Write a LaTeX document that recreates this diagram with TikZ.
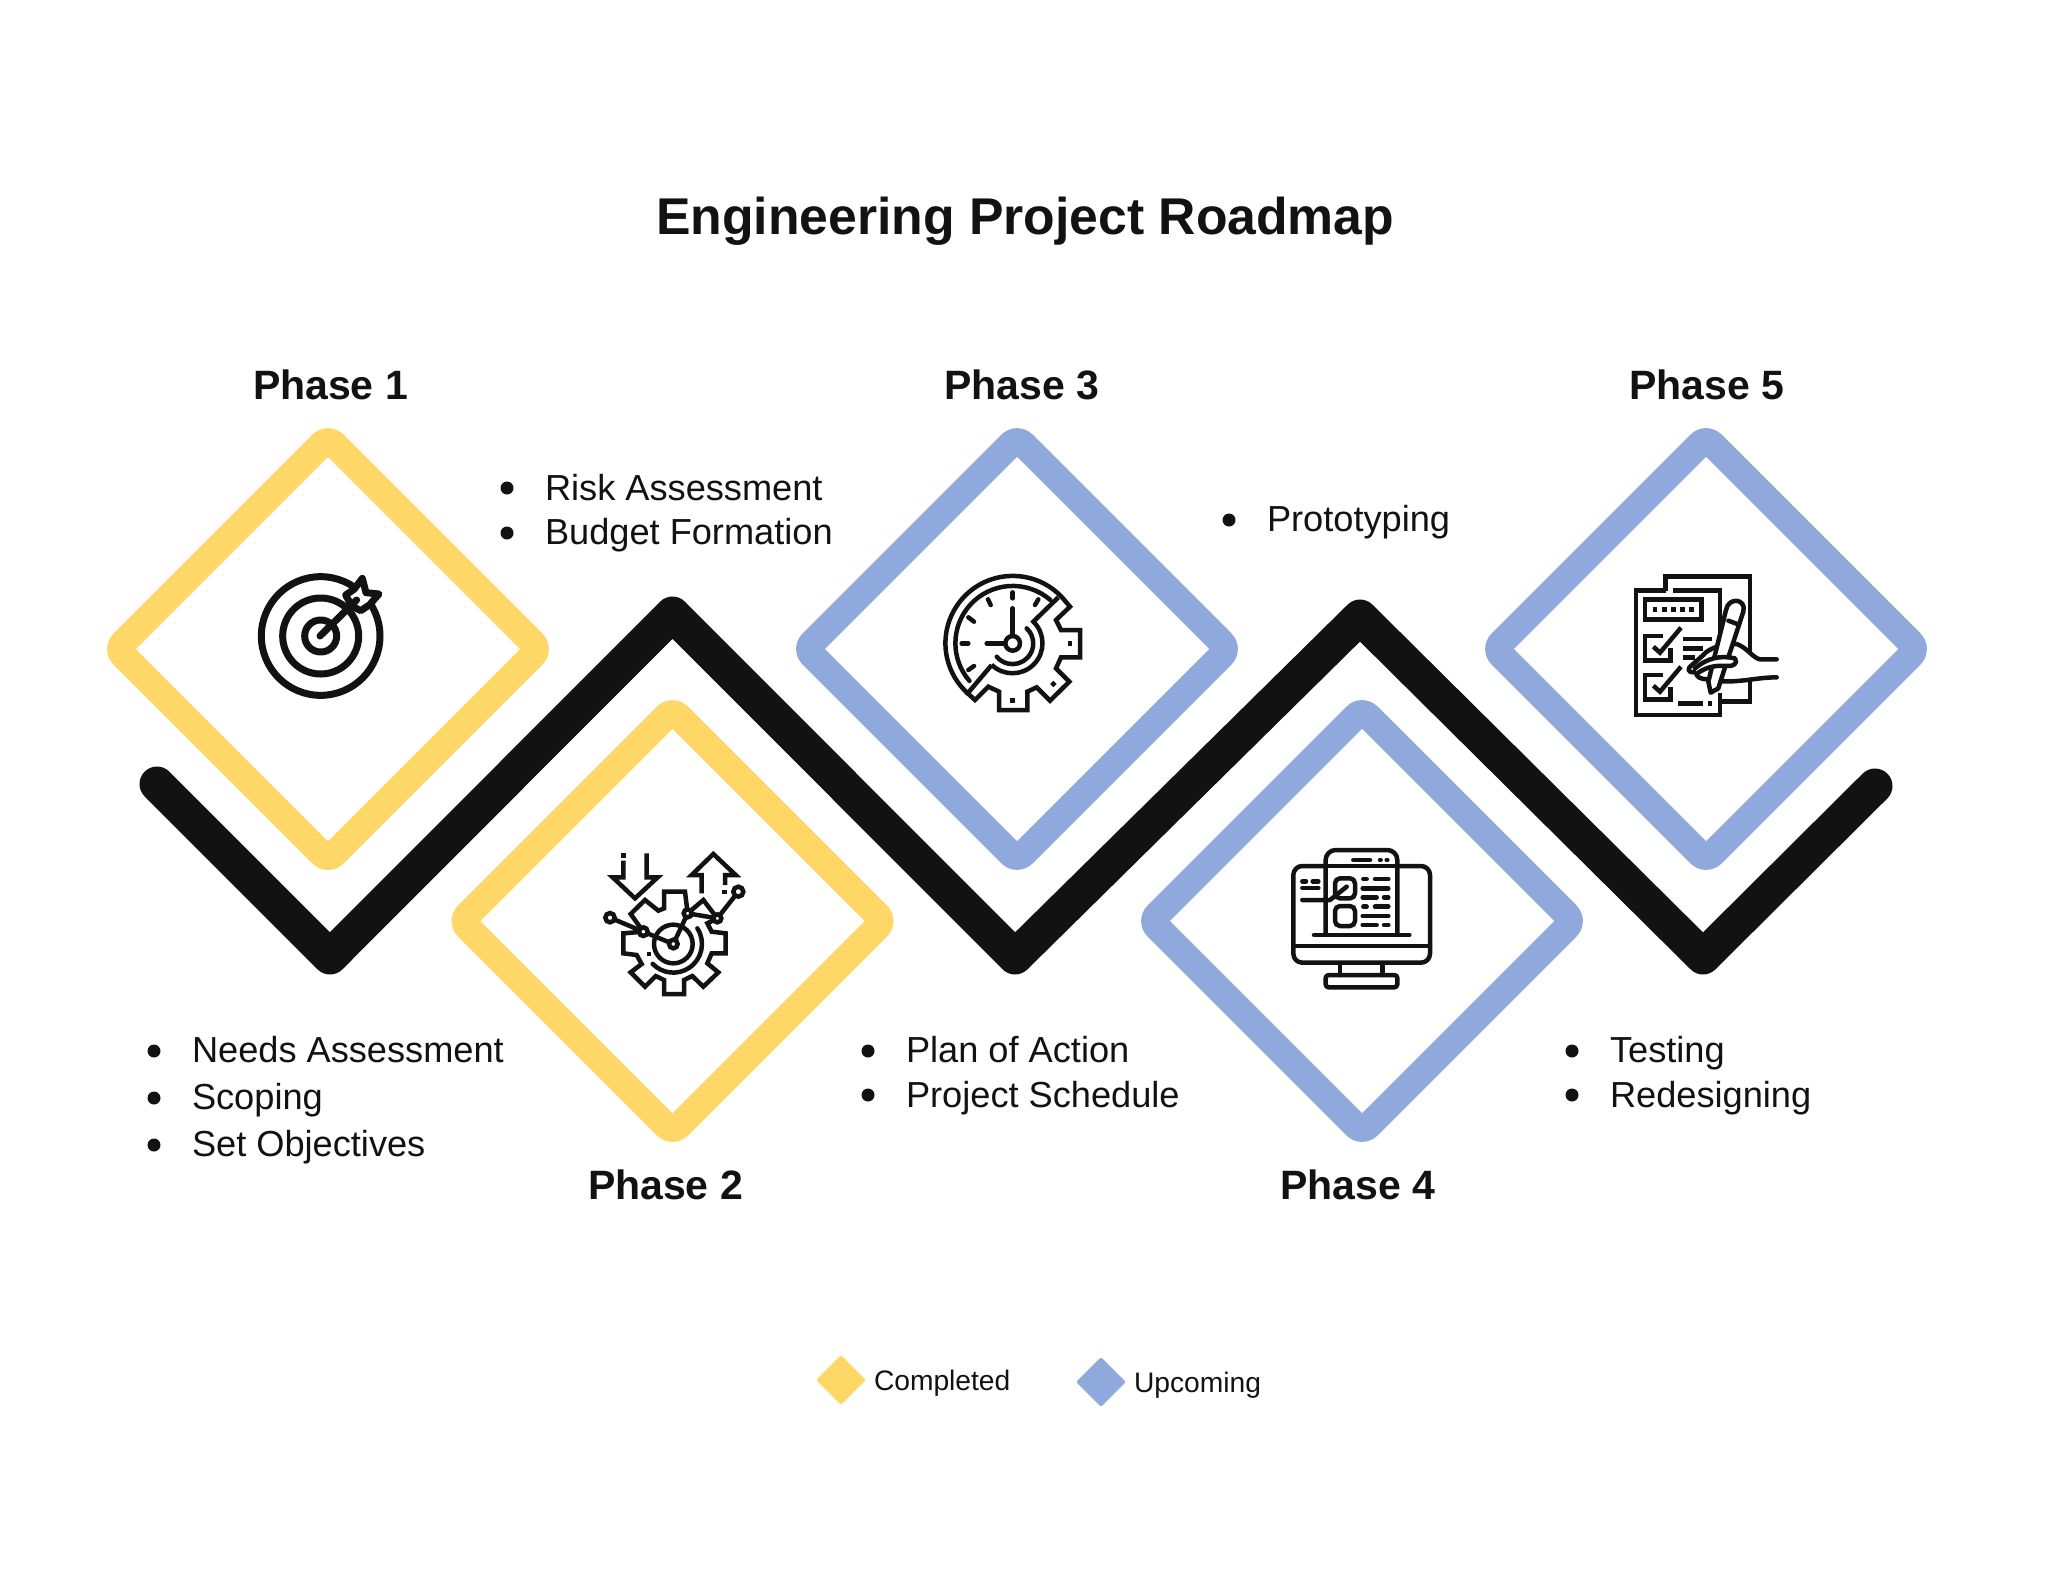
\documentclass[tikz,border=0pt]{standalone}
\usepackage{fontspec}
\setmainfont{Liberation Sans}
\usetikzlibrary{shapes.geometric}
\definecolor{ink}{HTML}{121212}
\definecolor{done}{HTML}{FFD766}
\definecolor{soon}{HTML}{8FA9DC}
\tikzset{
  bigdia/.style={diamond,aspect=1,fill=#1,rounded corners=22pt,minimum width=460pt,minimum height=460pt,inner sep=0pt,outer sep=0pt},
  holedia/.style={diamond,aspect=1,fill=white,minimum width=384pt,minimum height=384pt,inner sep=0pt,outer sep=0pt},
  smalldia/.style={diamond,aspect=1,draw=#1,fill=#1,line width=4pt,line join=round,minimum width=44pt,minimum height=44pt,inner sep=0pt,outer sep=0pt},
  road/.style={draw=ink,line width=35pt,line cap=round,line join=round},
  txt/.style={anchor=base west,inner sep=0pt,outer sep=0pt,text=ink},
  titletxt/.style={txt,font=\fontsize{51.7pt}{60pt}\bfseries\selectfont},
  phase/.style={txt,font=\fontsize{41pt}{48pt}\bfseries\selectfont},
  item/.style={txt,font=\fontsize{36.2pt}{44pt}\selectfont},
  legend/.style={txt,font=\fontsize{28.2pt}{34pt}\selectfont},
  bul/.style={circle,fill=ink,minimum size=13pt,inner sep=0pt,outer sep=0pt},
  ico/.style={draw=ink,line width=4.5pt,line cap=round,line join=round},
  icos/.style={draw=ink,line width=4.5pt,line cap=butt,line join=miter,miter limit=4},
  dot/.style={fill=ink,draw=none},
}
\begin{document}
\begin{tikzpicture}[x=1pt,y=-1pt]
\useasboundingbox[fill=white] (0,0) rectangle (2048,1582);
% road
\coordinate (r0) at (157,784);
\coordinate (r1) at (330,957);
\coordinate (r2) at (672.5,614);
\coordinate (r3) at (1015,957);
\coordinate (r4) at (1360,617);
\coordinate (r5) at (1703,957);
\coordinate (r6) at (1875,786);
\path[road] (r0) -- (r1) -- (r2) -- (r3) -- (r4) -- (r5) -- (r6);
% diamonds
\node[bigdia=done] (d1) at (328,649) {};   \node[holedia] (h1) at (d1.center) {};
\node[bigdia=done] (d2) at (672.5,921) {}; \node[holedia] (h2) at (d2.center) {};
\node[bigdia=soon] (d3) at (1017,649) {};  \node[holedia] (h3) at (d3.center) {};
\node[bigdia=soon] (d4) at (1362,921) {};  \node[holedia] (h4) at (d4.center) {};
\node[bigdia=soon] (d5) at (1706,649) {};  \node[holedia] (h5) at (d5.center) {};
% title
\node[titletxt] (title) at (656,234) {Engineering Project Roadmap};
\node[phase] (p1) at (253,399.5) {Phase 1};
\node[phase] (p3) at (944,399.5) {Phase 3};
\node[phase] (p5) at (1629,399.5) {Phase 5};
\node[phase] (p2) at (588,1199) {Phase 2};
\node[phase] (p4) at (1280,1199) {Phase 4};
% lists
\node[bul] (b11) at (154,1051) {}; \node[item] (t11) at (192,1062) {Needs Assessment};
\node[bul] (b12) at (154,1098) {}; \node[item] (t12) at (192,1109) {Scoping};
\node[bul] (b13) at (154,1145) {}; \node[item] (t13) at (192,1156) {Set Objectives};
\node[bul] (b21) at (507,488) {}; \node[item] (t21) at (545,500) {Risk Assessment};
\node[bul] (b22) at (507,533) {}; \node[item] (t22) at (545,544) {Budget Formation};
\node[bul] (b31) at (868,1051) {}; \node[item] (t31) at (906,1062) {Plan of Action};
\node[bul] (b32) at (868,1095) {}; \node[item] (t32) at (906,1107) {Project Schedule};
\node[bul] (b41) at (1229,520) {}; \node[item] (t41) at (1267,531) {Prototyping};
\node[bul] (b51) at (1572,1051) {}; \node[item] (t51) at (1610,1062) {Testing};
\node[bul] (b52) at (1572,1095) {}; \node[item] (t52) at (1610,1107) {Redesigning};
% legend
\node[smalldia=done] (k1) at (841,1380) {};
\node[legend] (kt1) at (874,1390) {Completed};
\node[smalldia=soon] (k2) at (1101,1382) {};
\node[legend] (kt2) at (1134,1392) {Upcoming};
% icon 1: target
\begin{scope}[shift={(230,550)},x=0.33333pt,y=-0.33333pt]
 \draw[ico,line width=7pt] (272,258) circle[radius=178];
 \draw[ico,line width=7pt] (272,258) circle[radius=114];
 \draw[ico,line width=7pt] (272,258) circle[radius=48];
 \draw[ico,line width=7pt,fill=white] (347,135) -- (372,118) -- (397,85) -- (408,128) -- (447,132) -- (418,165) -- (392,182) -- (365,168) -- cycle;
 \draw[ico,line width=7pt] (270,258) -- (380,150);
\end{scope}
% icon 2: gear
\begin{scope}[shift={(590,840)},x=0.33333pt,y=-0.33333pt]
 \draw[icos] (160,275) -- (100,280) -- (100,340) -- (140,345) -- (155,372) -- (122,397) -- (165,440) -- (197,408) -- (222,420) -- (222,462) -- (282,462) -- (282,420) -- (307,408) -- (340,440) -- (385,397) -- (352,370) -- (365,340) -- (407,340) -- (407,280) -- (365,275) -- (352,250) -- (382,235);
 \draw[icos] (160,275) -- (122,222) -- (165,180) -- (205,212) -- (222,205) -- (222,155) -- (285,155) -- (293,220) -- (340,180) -- (382,235) -- (293,220);
 \draw[icos] (250,312) circle[radius=58];
 \draw[ico] (322,265) arc[start angle=-33,end angle=136,radius=86];
 \draw[icos] (60,233) -- (160,275) -- (250,312) -- (293,220);
 \draw[icos] (382,235) -- (445,155);
 \foreach \x/\y/\r in {60/233/14,160/275/13,250/312/13,293/220/12,382/235/12,445/155/15}
   \draw[icos,fill=white] (\x,\y) circle[radius=\r];
 \draw[icos] (170,40) -- (170,112) -- (203,112) -- (135,175) -- (68,112) -- (100,112) -- (100,62);
 \draw[dot] (94,40) rectangle (108,54);
 \draw[icos] (335,160) -- (335,105) -- (305,105) -- (370,42) -- (437,105) -- (405,105) -- (405,135);
 \draw[dot] (397,149) rectangle (411,163);
 \draw[dot] (170,335) rectangle (182,347);
\end{scope}
% icon 3: clock gear
\begin{scope}[shift={(930,560)},x=0.33333pt,y=-0.33333pt]
 \draw[ico] (396,112) arc[start angle=-43,end angle=-228,radius=202];
 \draw[ico] (361,120) arc[start angle=-49,end angle=-221,radius=172];
 \draw[icos] (396,112) -- (420,140) -- (378,180) -- (393,210) -- (450,210) -- (450,292) -- (393,292) -- (378,325) -- (418,365) -- (360,422) -- (320,382) -- (292,395) -- (292,450) -- (207,450) -- (207,395) -- (175,380) -- (135,420) -- (113,400) -- (185,315);
 \draw[icos] (385,112) -- (310,185) arc[start angle=-46,end angle=134,radius=90];
 \draw[ico] (290,205) arc[start angle=-47,end angle=140,radius=62];
 \draw[ico] (248,145) -- (248,228);
 \draw[ico] (170,250) -- (228,250);
 \draw[ico,fill=white] (248,250) circle[radius=22];
 \foreach \a/\b/\c/\d in {248/97/248/115,174/118/182/135,115/172/132/185,95/250/115/250,115/330/132/318,325/118/315/135}
   \draw[ico] (\a,\b) -- (\c,\d);
 \draw[dot] (413,243) rectangle (427,257);
 \draw[dot] (241,415) rectangle (255,429);
 \draw[dot] (370,362) -- (380,372) -- (370,382) -- (360,372) -- cycle;
\end{scope}
% icon 4: monitor
\begin{scope}[shift={(1280,840)},x=0.33333pt,y=-0.33333pt]
 \draw[ico,rounded corners=9pt] (137,78) -- (40,78) -- (40,368) -- (450,368) -- (450,78) -- (352,78);
 \draw[ico] (40,318) -- (450,318);
 \draw[ico] (180,370) -- (180,405);
 \draw[ico] (308,370) -- (308,405);
 \draw[ico,rounded corners=3pt] (137,405) rectangle (352,442);
 \draw[ico,rounded corners=10pt] (137,285) -- (137,30) -- (352,30) -- (352,285);
 \draw[ico] (137,78) -- (352,78);
 \draw[ico] (102,285) -- (388,285);
 \draw[ico] (220,60) -- (270,60);
 \draw[ico] (300,60) -- (302,60);
 \draw[ico] (320,60) -- (322,60);
 \draw[ico,rounded corners=5pt] (165,115) rectangle (225,175);
 \draw[ico,rounded corners=5pt] (165,198) rectangle (225,258);
 \draw[ico] (67,180) -- (150,180) -- (200,140);
 \foreach \o in {0,83} {
  \draw[ico] (250,117+\o) -- (260,117+\o);
  \draw[ico] (285,117+\o) -- (325,117+\o);
  \draw[ico] (248,145+\o) -- (325,145+\o);
  \draw[ico] (248,172+\o) -- (290,172+\o);
  \draw[ico] (312,172+\o) -- (325,172+\o);
 }
 \draw[ico] (67,124) -- (78,124);
 \draw[ico] (98,124) -- (115,124);
 \draw[ico] (67,144) -- (115,144);
\end{scope}
% icon 5: checklist
\begin{scope}[shift={(1620,560)},x=0.33333pt,y=-0.33333pt]
 \draw[icos] (137,92) -- (137,50) -- (390,50) -- (390,425) -- (300,425);
 \draw[icos] (160,92) -- (300,92) -- (300,250);
 \draw[icos] (300,400) -- (300,465) -- (48,465) -- (48,92) -- (137,92);
 \draw[icos] (75,118) rectangle (245,178);
 \foreach \x in {105,133,160,187,215} \draw[dot] (\x-7,141) rectangle (\x+7,155);
 \foreach \o in {0,117} {
  \draw[icos] (130,228+\o) -- (75,228+\o) -- (75,302+\o) -- (152,302+\o) -- (152,265+\o);
  \draw[icos] (100,260+\o) -- (120,278+\o) -- (183,203+\o);
 }
 \draw[icos] (190,237) -- (275,237);
 \draw[icos] (190,265) -- (250,265);
 \draw[icos] (190,293) -- (225,293);
 \draw[icos] (175,430) -- (250,430);
 \draw[dot] (263,423) rectangle (277,437);
 \draw[ico,fill=white] (470,298) -- (420,298) .. controls (400,295) and (380,262) .. (350,252) .. controls (310,250) and (265,265) .. (250,285) -- (208,322) .. controls (200,335) and (215,340) .. (230,335) .. controls (225,350) and (240,358) .. (265,358) .. controls (340,375) and (400,352) .. (470,352);
 \draw[ico,fill=white] (318,150) .. controls (325,110) and (380,115) .. (370,155) -- (302,362) -- (295,385) -- (272,398) -- (265,365) -- cycle;
 \draw[ico] (325,182) -- (352,192);
 \draw[ico,fill=white] (225,325) .. controls (260,295) and (300,285) .. (345,295) .. controls (355,310) and (340,320) .. (320,318) .. controls (290,315) and (260,320) .. (232,340);
\end{scope}
\end{tikzpicture}
\end{document}
